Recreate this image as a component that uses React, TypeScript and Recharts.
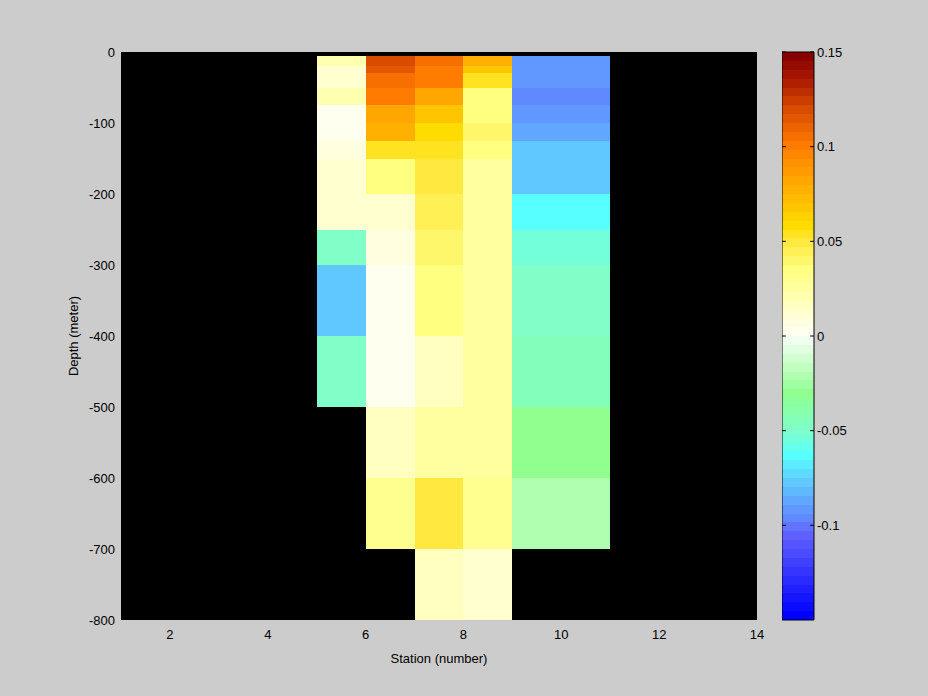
import React from 'react';
import { ComposedChart, XAxis, YAxis, ReferenceArea, ReferenceLine } from 'recharts';

// grid edges (pcolor style): each cell spans station[i]..station[i+1], depth[j]..depth[j+1]
const stationEdges = [5, 6, 7, 8, 9, 11];
const depthEdges = [-5, -20, -30, -50, -75, -100, -125, -150, -200, -250, -300, -400, -500, -600, -700, -800];

// values per station column, top row first (rows missing at the bottom are no data)
const station5 = [0.02, 0.012, 0.012, 0.02, 0.002, 0.002, 0.006, 0.01, 0.01, -0.049, -0.078, -0.049];
const station6 = [0.119, 0.115, 0.105, 0.1, 0.082, 0.077, 0.054, 0.035, 0.01, 0.006, 0.002, 0.002, 0.016, 0.03];
const station7 = [0.105, 0.1, 0.1, 0.082, 0.068, 0.058, 0.054, 0.049, 0.045, 0.04, 0.035, 0.016, 0.025, 0.049, 0.016];
const station8 = [0.077, 0.068, 0.054, 0.035, 0.035, 0.039, 0.035, 0.026, 0.026, 0.026, 0.026, 0.026, 0.026, 0.03, 0.01];
const station9 = [-0.091, -0.091, -0.091, -0.096, -0.091, -0.087, -0.078, -0.078, -0.063, -0.054, -0.049, -0.045, -0.03, -0.02];

const columns = [station5, station6, station7, station8, station9];

const xTicks = [2, 4, 6, 8, 10, 12, 14];
const yTicks = [-800, -700, -600, -500, -400, -300, -200, -100, 0];
const colorTicks = [-0.1, -0.05, 0, 0.05, 0.1, 0.15];
const cMin = -0.15;
const cMax = 0.15;

// 64-level colormap, built from a few anchor colours
const cmapStops: [number, string][] = [
  [0, '#0000ff'], [9, '#6060ff'], [11, '#6088ff'], [12, '#6098ff'], [15, '#60c8ff'],
  [18, '#58ffff'], [21, '#80ffc8'], [25, '#90ff90'], [31, '#f0fff0'], [32, '#fffff0'],
  [39, '#ffff80'], [42, '#ffe840'], [44, '#ffdc00'], [48, '#ffb000'], [53, '#ff7c00'],
  [57, '#d84c00'], [60, '#b02000'], [63, '#880000'],
];
const N_COLORS = 64;

const hex = (h: string) => [1, 3, 5].map((i) => parseInt(h.slice(i, i + 2), 16));
const toHex = (c: number[]) => '#' + c.map((v) => Math.round(v).toString(16).padStart(2, '0')).join('');

const colormap: string[] = [];
for (let i = 0; i < N_COLORS; i++) {
  let k = 0;
  while (k < cmapStops.length - 2 && cmapStops[k + 1][0] < i) k++;
  const [i0, c0] = cmapStops[k];
  const [i1, c1] = cmapStops[k + 1];
  const t = i1 === i0 ? 0 : Math.min(1, Math.max(0, (i - i0) / (i1 - i0)));
  const a = hex(c0);
  const b = hex(c1);
  colormap.push(toHex(a.map((v, j) => v + (b[j] - v) * t)));
}

const colorOf = (v: number) => {
  const idx = Math.floor(((v - cMin) / (cMax - cMin)) * N_COLORS);
  return colormap[Math.min(N_COLORS - 1, Math.max(0, idx))];
};

const band = (cMax - cMin) / N_COLORS;
const tickStyle = { fill: '#000', fontSize: 13 };

export default function App() {
  return (
    <div
      style={{
        position: 'absolute',
        left: 0,
        top: 0,
        width: 928,
        height: 696,
        background: '#cccccc',
        fontFamily: '"Liberation Sans", Arial, sans-serif',
      }}
    >
      <div style={{ position: 'absolute', left: 0, top: 0 }}>
        <ComposedChart width={928} height={696} margin={{ top: 52, right: 171, bottom: 0, left: 0 }}>
          <XAxis
            type="number"
            dataKey="x"
            domain={[1, 14]}
            ticks={xTicks}
            interval={0}
            allowDataOverflow
            height={76}
            axisLine={false}
            tickLine={false}
            tickSize={6}
            tickMargin={4}
            tick={tickStyle}
            label={(p: any) => {
              const vb = p.viewBox;
              return (
                <text x={vb.x + vb.width / 2} y={vb.y + 43} textAnchor="middle" fontSize={13} fill="#000">
                  Station (number)
                </text>
              );
            }}
          />
          <YAxis
            type="number"
            domain={[-800, 0]}
            ticks={yTicks}
            interval={0}
            allowDataOverflow
            width={121}
            axisLine={false}
            tickLine={false}
            tickSize={6}
            tickMargin={0}
            tick={tickStyle}
            label={(p: any) => {
              const vb = p.viewBox;
              const cx = vb.x + vb.width - 48;
              const cy = vb.y + vb.height / 2;
              return (
                <text
                  x={cx}
                  y={cy}
                  transform={`rotate(-90 ${cx} ${cy})`}
                  textAnchor="middle"
                  dominantBaseline="central"
                  fontSize={13}
                  fill="#000"
                >
                  Depth (meter)
                </text>
              );
            }}
          />
          {/* no-data background */}
          <ReferenceArea x1={1} x2={14} y1={-800} y2={0} fill="#000" fillOpacity={1} stroke="none" />
          {columns.map((vals, c) =>
            vals.map((v, r) => (
              <ReferenceArea
                key={`cell-${c}-${r}`}
                x1={stationEdges[c]}
                x2={stationEdges[c + 1]}
                y1={depthEdges[r + 1]}
                y2={depthEdges[r]}
                fill={colorOf(v)}
                fillOpacity={1}
                stroke="none"
                shapeRendering="crispEdges"
              />
            ))
          )}
        </ComposedChart>
      </div>

      {/* colorbar */}
      <div style={{ position: 'absolute', left: 782, top: 0 }}>
        <ComposedChart width={146} height={696} margin={{ top: 52, right: 0, bottom: 76, left: 0 }}>
          <XAxis type="number" dataKey="x" domain={[0, 1]} hide allowDataOverflow />
          <YAxis
            type="number"
            orientation="right"
            domain={[cMin, cMax]}
            ticks={colorTicks}
            interval={0}
            allowDataOverflow
            width={114}
            axisLine={false}
            tickLine={false}
            tickSize={3}
            tickMargin={0}
            tick={tickStyle}
          />
          {colormap.map((col, i) => (
            <ReferenceArea
              key={`band-${i}`}
              x1={0}
              x2={1}
              y1={cMin + i * band}
              y2={cMin + (i + 1) * band}
              fill={col}
              fillOpacity={1}
              stroke="none"
              shapeRendering="crispEdges"
            />
          ))}
          <ReferenceArea x1={0} x2={1} y1={cMin} y2={cMax} fill="none" stroke="#000" strokeWidth={1} />
          {colorTicks.map((t) => (
            <ReferenceLine key={`tl-${t}`} segment={[{ x: 0, y: t }, { x: 0.12, y: t }]} stroke="#000" />
          ))}
          {colorTicks.map((t) => (
            <ReferenceLine key={`tr-${t}`} segment={[{ x: 0.88, y: t }, { x: 1, y: t }]} stroke="#000" />
          ))}
        </ComposedChart>
      </div>
    </div>
  );
}
